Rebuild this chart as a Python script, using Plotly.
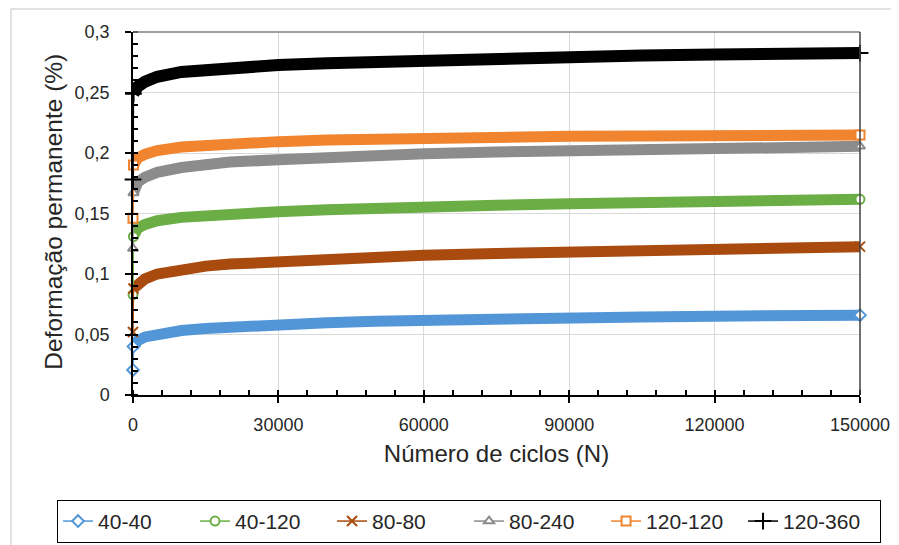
import plotly.graph_objects as go

# ---- data ----
cycles = [1, 100, 1000, 2500, 5000, 10000, 15000, 20000, 30000, 40000, 50000,
          60000, 75000, 90000, 105000, 120000, 135000, 150000]

s_40_40 = [0.0207, 0.040, 0.045, 0.048, 0.0505, 0.0533, 0.055, 0.0563, 0.0585, 0.0598,
           0.061, 0.062, 0.063, 0.0638, 0.0645, 0.0651, 0.0656, 0.066]
s_40_120 = [0.083, 0.131, 0.138, 0.141, 0.144, 0.1468, 0.1485, 0.1497, 0.1515, 0.153,
            0.1545, 0.1555, 0.1568, 0.158, 0.1592, 0.1602, 0.161, 0.1617]
s_80_80 = [0.052, 0.088, 0.092, 0.096, 0.100, 0.104, 0.1065, 0.1082, 0.1105, 0.1125,
           0.1142, 0.1155, 0.117, 0.1185, 0.1198, 0.121, 0.1218, 0.1226]
s_80_240 = [0.121, 0.167, 0.176, 0.180, 0.184, 0.188, 0.1905, 0.1925, 0.1945, 0.1965,
            0.198, 0.1993, 0.2008, 0.202, 0.2032, 0.204, 0.2048, 0.2055]
s_120_120 = [0.146, 0.190, 0.196, 0.199, 0.202, 0.205, 0.2065, 0.2078, 0.2094, 0.2107,
             0.2117, 0.2125, 0.2133, 0.2138, 0.214, 0.2142, 0.2145, 0.2148]
s_120_360 = [0.178, 0.249, 0.255, 0.259, 0.263, 0.267, 0.269, 0.2705, 0.2727, 0.2742,
             0.2755, 0.2765, 0.2778, 0.279, 0.2805, 0.2815, 0.282, 0.2826]

series_names = ["40-40", "40-120", "80-80", "80-240", "120-120", "120-360"]
series_values = [s_40_40, s_40_120, s_80_80, s_80_240, s_120_120, s_120_360]

x_tickvals = [0, 30000, 60000, 90000, 120000, 150000]
x_ticktext = ["0", "30000", "60000", "90000", "120000", "150000"]
y_tickvals = [0, 0.05, 0.1, 0.15, 0.2, 0.25, 0.3]
y_ticktext = ["0", "0,05", "0,1", "0,15", "0,2", "0,25", "0,3"]

x_title = "Número de ciclos (N)"
y_title = "Deformação permanente (%)"

# ---- styles ----
colors = ["#5296D8", "#6BAE45", "#A94A0E", "#8C8C8C", "#F0842F", "#000000"]
symbols = ["diamond", "circle", "x-thin", "triangle-up", "square", "cross-thin"]
msizes = [9, 9, 10, 9, 9, 12]
band_w = [11, 11, 11, 11, 11, 12]
FONT = "Liberation Sans, Arial, sans-serif"

fig = go.Figure()

# thick bands (dense overlapping markers in the original)
for name, vals, col, bw in zip(series_names, series_values, colors, band_w):
    fig.add_trace(go.Scatter(
        x=cycles[1:], y=vals[1:], mode="lines",
        line=dict(color=col, width=bw), showlegend=False, hoverinfo="skip"))

# start segments with markers (legend entries) and end markers
for name, vals, col, sym, ms in zip(series_names, series_values, colors, symbols, msizes):
    thin_sym = sym in ("x-thin", "cross-thin")
    fig.add_trace(go.Scatter(
        x=cycles[:2], y=vals[:2], mode="lines+markers", name=name,
        line=dict(color=col, width=1.5),
        marker=dict(symbol=sym, size=ms, color="white" if not thin_sym else col,
                    line=dict(color=col, width=2)),
        cliponaxis=False))
    fig.add_trace(go.Scatter(
        x=cycles[-1:], y=vals[-1:], mode="markers", showlegend=False,
        marker=dict(symbol=sym, size=ms, color="white" if not thin_sym else col,
                    line=dict(color=col, width=2)),
        cliponaxis=False))

# the page body has an 8px margin, so the figure is 8px smaller and offset
fig.update_layout(
    width=891, height=537,
    margin=dict(l=125, r=39, t=24, b=150, autoexpand=False),
    paper_bgcolor="white", plot_bgcolor="white",
    font=dict(family=FONT, size=18, color="#262626"),
    xaxis=dict(
        range=[0, 150000], tickmode="array", tickvals=x_tickvals, ticktext=x_ticktext,
        automargin=False,
        showgrid=True, gridcolor="#D9D9D9", gridwidth=1,
        showline=True, linecolor="black", linewidth=1.5,
        ticks="outside", ticklen=6, tickwidth=1.5, tickcolor="black",
        ticklabelstandoff=7,
        minor=dict(tickmode="linear", tick0=0, dtick=6000, ticks="inside",
                   ticklen=5, tickwidth=1.5, tickcolor="black", showgrid=False),
        zeroline=False,
        title=dict(text=x_title, font=dict(size=24, color="#262626"), standoff=11),
        tickfont=dict(size=18, color="#262626"),
    ),
    yaxis=dict(
        range=[0, 0.3], tickmode="array", tickvals=y_tickvals, ticktext=y_ticktext,
        automargin=False,
        showgrid=True, gridcolor="#D9D9D9", gridwidth=1,
        showline=True, linecolor="black", linewidth=1.5,
        ticks="outside", ticklen=6, tickwidth=1.5, tickcolor="black",
        ticklabelstandoff=12,
        minor=dict(tickmode="linear", tick0=0, dtick=0.01, ticks="inside",
                   ticklen=5, tickwidth=1.5, tickcolor="black", showgrid=False),
        zeroline=False,
        tickfont=dict(size=18, color="#262626"),
    ),
    annotations=[
        dict(text=y_title, xref="paper", yref="paper", x=-0.1087, y=0.505,
             xanchor="center", yanchor="middle", textangle=-90, showarrow=False,
             font=dict(size=24.5, color="#262626", family=FONT)),
    ],
    legend=dict(
        orientation="h", xref="paper", yref="paper",
        x=-0.1045, xanchor="left", y=-0.289, yanchor="top",
        bordercolor="black", borderwidth=1, bgcolor="white",
        font=dict(size=21, color="#262626"), itemwidth=30,
        entrywidth=92, entrywidthmode="pixels",
    ),
    shapes=[
        dict(type="line", xref="paper", yref="paper", x0=0, x1=1, y0=1, y1=1,
             line=dict(color="#7F7F7F", width=1.5)),
        dict(type="line", xref="paper", yref="paper", x0=1, x1=1, y0=0, y1=1,
             line=dict(color="#404040", width=1.5)),
        dict(type="rect", xref="paper", yref="paper", x0=-0.1678, x1=1.044,
             y0=-0.5, y1=1.0634, line=dict(color="#D9D9D9", width=1.5), layer="below"),
    ],
)

fig.write_html("out.html")
